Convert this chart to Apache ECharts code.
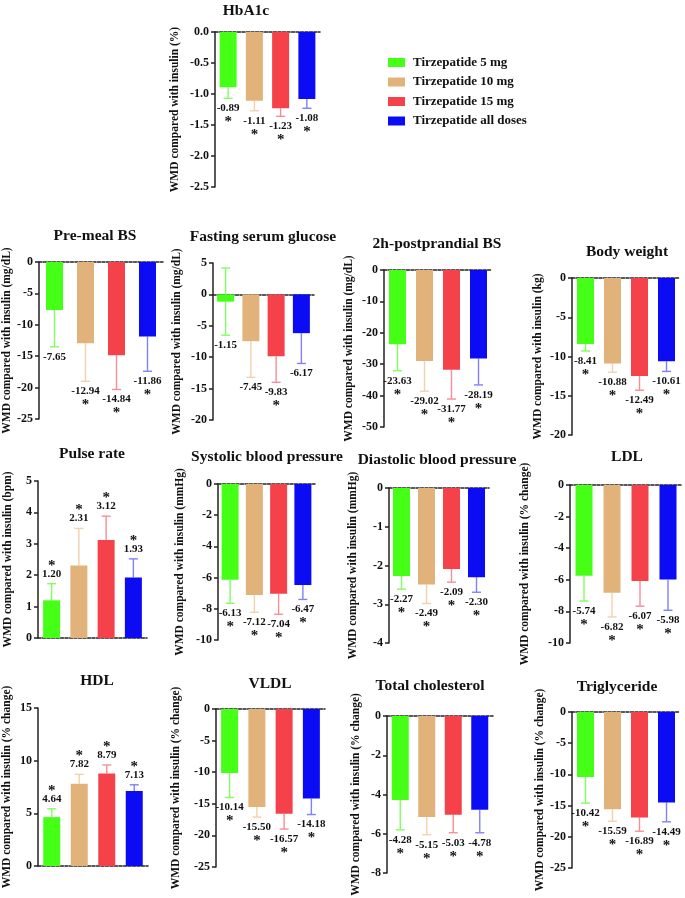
<!DOCTYPE html>
<html>
<head>
<meta charset="utf-8">
<script src="https://cdn.jsdelivr.net/npm/echarts@6/dist/echarts.min.js"></script>
<style>
  html, body { margin: 0; padding: 0; background: #fff; }
  #chart { width: 685px; height: 898px; }
</style>
</head>
<body>
<div id="chart"></div>
<script>
const doses = ['Tirzepatide 5 mg', 'Tirzepatide 10 mg', 'Tirzepatide 15 mg', 'Tirzepatide all doses'];
const barColors = ['#45ff17', '#e2b27b', '#f5424a', '#0c0cf4'];
const errColors = ['#80ff60', '#f2d2ae', '#f78e96', '#8080ff'];

// WMD values, far end of the 95% CI, significance flag, y axis [min, max, step]
const hba1cWmd = [-0.89, -1.11, -1.23, -1.08];
const hba1cCi = [-1.07, -1.27, -1.36, -1.23];
const hba1cSig = [1, 1, 1, 1];
const hba1cTicks = [-2.5, 0, 0.5];

const premealWmd = [-7.65, -12.94, -14.84, -11.86];
const premealCi = [-13.5, -19.0, -20.3, -17.4];
const premealSig = [0, 1, 1, 1];
const premealTicks = [-25, 0, 5];

const fastingWmd = [-1.15, -7.45, -9.83, -6.17];
const fastingCi = [-6.5, -13.2, -14.0, -11.0];
const fastingUp = [4.2, null, null, null];
const fastingSig = [0, 0, 1, 0];
const fastingTicks = [-20, 5, 5];

const ppbsWmd = [-23.63, -29.02, -31.77, -28.19];
const ppbsCi = [-32.1, -38.6, -41.1, -36.6];
const ppbsSig = [1, 1, 1, 1];
const ppbsTicks = [-50, 0, 10];

const weightWmd = [-8.41, -10.88, -12.49, -10.61];
const weightCi = [-9.3, -12.0, -14.3, -11.9];
const weightSig = [1, 1, 1, 1];
const weightTicks = [-20, 0, 5];

const pulseWmd = [1.20, 2.31, 3.12, 1.93];
const pulseCi = [1.73, 3.49, 3.88, 2.52];
const pulseSig = [1, 1, 1, 1];
const pulseTicks = [0, 5, 1];

const sbpWmd = [-6.13, -7.12, -7.04, -6.47];
const sbpCi = [-7.65, -8.22, -8.35, -7.4];
const sbpSig = [1, 1, 1, 1];
const sbpTicks = [-10, 0, 2];

const dbpWmd = [-2.27, -2.49, -2.09, -2.30];
const dbpCi = [-2.61, -2.98, -2.43, -2.69];
const dbpSig = [1, 1, 1, 1];
const dbpTicks = [-4, 0, 1];

const ldlWmd = [-5.74, -6.82, -6.07, -5.98];
const ldlCi = [-7.34, -8.35, -7.67, -7.93];
const ldlSig = [1, 1, 1, 1];
const ldlTicks = [-10, 0, 2];

const hdlWmd = [4.64, 7.82, 8.79, 7.13];
const hdlCi = [5.43, 8.70, 9.59, 7.71];
const hdlSig = [1, 1, 1, 1];
const hdlTicks = [0, 15, 5];

const vldlWmd = [-10.14, -15.50, -16.57, -14.18];
const vldlCi = [-14.0, -17.1, -19.0, -16.7];
const vldlSig = [1, 1, 1, 1];
const vldlTicks = [-25, 0, 5];

const tcWmd = [-4.28, -5.15, -5.03, -4.78];
const tcCi = [-5.8, -6.05, -5.95, -5.95];
const tcSig = [1, 1, 1, 1];
const tcTicks = [-8, 0, 2];

const tgWmd = [-10.42, -15.59, -16.89, -14.49];
const tgCi = [-14.6, -17.5, -19.1, -17.6];
const tgSig = [1, 1, 1, 1];
const tgTicks = [-25, 0, 5];

const panels = [
  { title: 'HbA1c', unit: '%', wmd: hba1cWmd, ci: hba1cCi, sig: hba1cSig, ticks: hba1cTicks, digits: 1 },
  { title: 'Pre-meal BS', unit: 'mg/dL', wmd: premealWmd, ci: premealCi, sig: premealSig, ticks: premealTicks },
  { title: 'Fasting serum glucose', unit: 'mg/dL', wmd: fastingWmd, ci: fastingCi, up: fastingUp, sig: fastingSig, ticks: fastingTicks },
  { title: '2h-postprandial BS', unit: 'mg/dL', wmd: ppbsWmd, ci: ppbsCi, sig: ppbsSig, ticks: ppbsTicks },
  { title: 'Body weight', unit: 'kg', wmd: weightWmd, ci: weightCi, sig: weightSig, ticks: weightTicks },
  { title: 'Pulse rate', unit: 'bpm', wmd: pulseWmd, ci: pulseCi, sig: pulseSig, ticks: pulseTicks },
  { title: 'Systolic blood pressure', unit: 'mmHg', wmd: sbpWmd, ci: sbpCi, sig: sbpSig, ticks: sbpTicks },
  { title: 'Diastolic blood pressure', unit: 'mmHg', wmd: dbpWmd, ci: dbpCi, sig: dbpSig, ticks: dbpTicks },
  { title: 'LDL', unit: '% change', wmd: ldlWmd, ci: ldlCi, sig: ldlSig, ticks: ldlTicks },
  { title: 'HDL', unit: '% change', wmd: hdlWmd, ci: hdlCi, sig: hdlSig, ticks: hdlTicks },
  { title: 'VLDL', unit: '% change', wmd: vldlWmd, ci: vldlCi, sig: vldlSig, ticks: vldlTicks },
  { title: 'Total cholesterol', unit: '% change', wmd: tcWmd, ci: tcCi, sig: tcSig, ticks: tcTicks },
  { title: 'Triglyceride', unit: '% change', wmd: tgWmd, ci: tgCi, sig: tgSig, ticks: tgTicks }
];

// grid box [left, top, width, height], y-name gap, title centre [x, y]
const layout = [
  { box: [215, 32, 105, 155], gap: 34, t: [246, 12] },
  { box: [39, 262, 124, 157], gap: 26, t: [95, 237] },
  { box: [213, 263, 101, 157], gap: 30, t: [263, 238] },
  { box: [384, 270, 108, 157], gap: 29, t: [437, 245] },
  { box: [572, 278, 108, 157], gap: 28, t: [627, 253] },
  { box: [38, 481, 109, 157], gap: 24, t: [92, 455] },
  { box: [218, 484, 97, 156], gap: 32, t: [267, 458] },
  { box: [389, 488, 100, 155], gap: 30, t: [437, 461] },
  { box: [570, 485, 112, 158], gap: 39, t: [627, 458] },
  { box: [38, 708, 110, 158], gap: 25, t: [97, 682] },
  { box: [216, 709, 109, 158], gap: 34, t: [270, 685] },
  { box: [387, 716, 106, 157], gap: 25, t: [430, 687] },
  { box: [572, 712, 108, 156], gap: 25, t: [617, 688] }
];

const serif = '"Liberation Serif", "Times New Roman", serif';
const ink = '#111';

// error bar + value label + star, drawn on the panel's own axes
function renderWhisker (params, api) {
  const k = api.value(0);
  const v = api.value(1);
  const e = api.value(2);
  const u = api.value(3);
  const s = api.value(4);
  const c = errColors[k];
  const p0 = api.coord([k, v]);
  const p1 = api.coord([k, e]);
  const kids = [
    { type: 'line', shape: { x1: p0[0], y1: p0[1], x2: p1[0], y2: p1[1] }, style: { stroke: c, lineWidth: 1.4 } },
    { type: 'line', shape: { x1: p1[0] - 4.5, y1: p1[1], x2: p1[0] + 4.5, y2: p1[1] }, style: { stroke: c, lineWidth: 1.4 } }
  ];
  if (u > v) {
    const p2 = api.coord([k, u]);
    kids.push({ type: 'line', shape: { x1: p0[0], y1: p0[1], x2: p2[0], y2: p2[1] }, style: { stroke: c, lineWidth: 1.4 } });
    kids.push({ type: 'line', shape: { x1: p2[0] - 4.5, y1: p2[1], x2: p2[0] + 4.5, y2: p2[1] }, style: { stroke: c, lineWidth: 1.4 } });
  }
  const dir = v < 0 ? 1 : -1;
  const ny = p1[1] + dir * 10;
  kids.push({
    type: 'text',
    style: { text: v.toFixed(2), x: p0[0], y: ny, align: 'center', verticalAlign: 'middle',
      fontSize: 11, fontWeight: 'bold', fontFamily: serif, fill: ink }
  });
  if (s) {
    kids.push({
      type: 'text',
      style: { text: '*', x: p0[0], y: ny + dir * 11 + 3, align: 'center', verticalAlign: 'middle',
        fontSize: 15, fontWeight: 'bold', fontFamily: serif, fill: ink }
    });
  }
  return { type: 'group', children: kids };
}

const grid = [], xAxis = [], yAxis = [], series = [], title = [];

panels.forEach((p, i) => {
  const L = layout[i];
  grid.push({ left: L.box[0], top: L.box[1], width: L.box[2], height: L.box[3] });
  title.push({
    text: p.title, left: L.t[0], top: L.t[1] - 9, textAlign: 'center', padding: 0,
    textStyle: { fontFamily: serif, fontWeight: 'bold', fontSize: 15.5, color: ink }
  });
  xAxis.push({
    type: 'category', gridIndex: i, data: doses,
    axisLabel: { show: false }, axisTick: { show: false },
    axisLine: { onZero: true, lineStyle: { color: '#222', width: 1.5, type: [3, 1.5] } }
  });
  yAxis.push({
    type: 'value', gridIndex: i, min: p.ticks[0], max: p.ticks[1], interval: p.ticks[2],
    splitLine: { show: false },
    axisLine: { show: true, lineStyle: { color: '#222', width: 1.5 } },
    axisTick: { show: true, length: 4, lineStyle: { color: '#222', width: 1.5 } },
    axisLabel: {
      margin: 6, fontFamily: serif, fontWeight: 'bold', fontSize: 12, color: ink,
      formatter: v => v.toFixed(p.digits || 0)
    },
    name: 'WMD compared with insulin (' + p.unit + ')',
    nameLocation: 'middle', nameGap: L.gap,
    nameTextStyle: { fontFamily: serif, fontWeight: 'bold', fontSize: 11.5, color: ink }
  });
  series.push({
    type: 'bar', xAxisIndex: i, yAxisIndex: i, barWidth: 17, z: 3, silent: true,
    data: p.wmd.map((v, k) => ({ value: v, itemStyle: { color: barColors[k] } }))
  });
  series.push({
    type: 'custom', xAxisIndex: i, yAxisIndex: i, z: 2, silent: true,
    renderItem: renderWhisker,
    encode: { x: 0, y: 1 },
    data: p.wmd.map((v, k) => [k, v, p.ci[k], p.up && p.up[k] != null ? p.up[k] : v, p.sig[k]])
  });
});

// hidden grid only to feed the legend
const hid = panels.length;
grid.push({ left: 0, top: 0, width: 1, height: 1, show: false });
xAxis.push({ type: 'category', gridIndex: hid, show: false, data: ['a'] });
yAxis.push({ type: 'value', gridIndex: hid, show: false });
doses.forEach((d, k) => {
  series.push({ type: 'bar', name: d, xAxisIndex: hid, yAxisIndex: hid, data: [], itemStyle: { color: barColors[k] } });
});

const chart = echarts.init(document.getElementById('chart'));
chart.setOption({
  backgroundColor: '#fff',
  animation: false,
  title,
  legend: {
    data: doses, orient: 'vertical', left: 383, top: 51,
    icon: 'rect', itemWidth: 17, itemHeight: 9, itemGap: 6.5,
    selectedMode: false,
    textStyle: { fontFamily: serif, fontWeight: 'bold', fontSize: 13, color: ink, padding: [0, 0, 0, 3] }
  },
  grid, xAxis, yAxis, series
});
</script>
</body>
</html>
